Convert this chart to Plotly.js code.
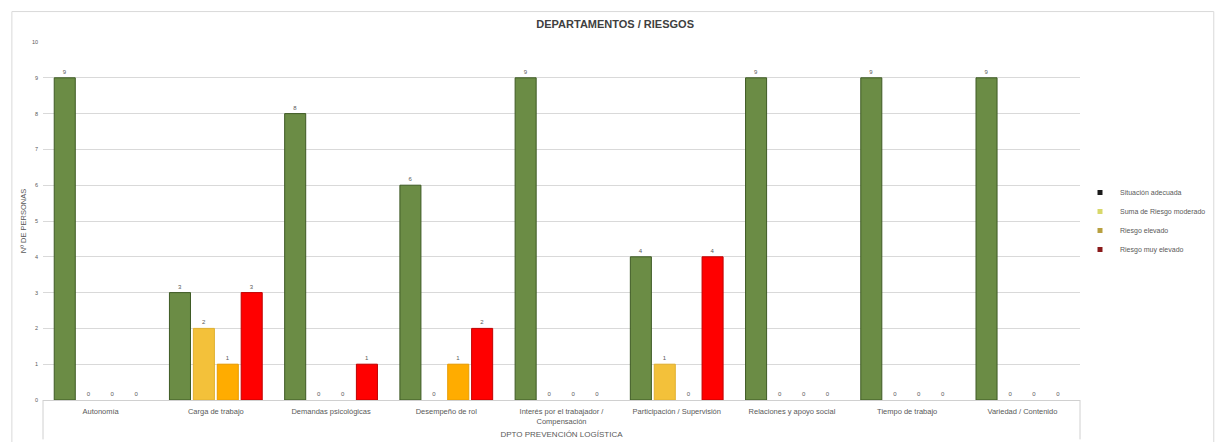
<!DOCTYPE html>
<html>
<head>
<meta charset="utf-8">
<script src="https://cdn.plot.ly/plotly-3.0.1.min.js"></script>
<style>html,body{margin:0;padding:0;background:#fff;}#chart{width:1223px;height:442px;}</style>
</head>
<body>
<div id="chart"></div>
<script>
const categories = ["Autonomía", "Carga de trabajo", "Demandas psicológicas", "Desempeño de rol", "Interés por el trabajador /<br>Compensación", "Participación / Supervisión", "Relaciones y apoyo social", "Tiempo de trabajo", "Variedad / Contenido"];
const seriesNames = ["Situación adecuada", "Suma de Riesgo moderado", "Riesgo elevado", "Riesgo muy elevado"];
const situacionAdecuada = [9, 3, 8, 6, 9, 4, 9, 9, 9];
const riesgoModerado = [0, 2, 0, 0, 0, 1, 0, 0, 0];
const riesgoElevado = [0, 1, 0, 1, 0, 0, 0, 0, 0];
const riesgoMuyElevado = [0, 3, 1, 2, 0, 4, 0, 0, 0];
const barColors = ["#6b8c45", "#f3c13a", "#ffac00", "#ff0000"];
const barLines = ["#3e5a24", "#e0b030", "#e89c00", "#c00000"];
const legendColors = ["#1a1a1a", "#d8d86a", "#b8a040", "#8a1a1a"];
const series = [situacionAdecuada, riesgoModerado, riesgoElevado, riesgoMuyElevado];

const traces = series.map((vals, i) => ({
  type: "bar",
  x: categories,
  y: vals,
  name: seriesNames[i],
  showlegend: false,
  marker: {color: barColors[i], line: {color: barLines[i], width: vals.map(v => v > 0 ? 1 : 0)}},
  text: vals.map(String),
  textposition: "outside",
  cliponaxis: false,
  textfont: {size: 6, color: "#595959", family: "Liberation Sans, Arial"}
}));
seriesNames.forEach((n, i) => {
  traces.push({
    type: "scatter", mode: "markers", x: [null], y: [null], name: n,
    marker: {symbol: "square", size: 5, color: legendColors[i]}
  });
});

const layout = {
  width: 1223, height: 442,
  margin: {l: 43, r: 143, t: 42, b: 42},
  paper_bgcolor: "#ffffff", plot_bgcolor: "#ffffff",
  barmode: "group", bargap: 0.17, bargroupgap: 0.12,
  font: {family: "Liberation Sans, Arial", color: "#595959", size: 6},
  title: {text: "<b>DEPARTAMENTOS / RIESGOS</b>", x: 0.503, xanchor: "center", y: 0.945, yanchor: "middle",
          font: {size: 11, color: "#404040", family: "Liberation Sans Narrow, Liberation Sans, Arial"}},
  xaxis: {
    type: "category", showgrid: false, showline: true, linecolor: "#d0d0d0", linewidth: 1,
    ticks: "", tickfont: {size: 7.5, color: "#595959"}, ticklabelstandoff: 4,
    title: {text: "DPTO PREVENCIÓN LOGÍSTICA", standoff: 6, font: {size: 8, color: "#595959"}}
  },
  yaxis: {
    range: [0, 10], dtick: 1, showgrid: true, gridcolor: "#d9d9d9", gridwidth: 1,
    zeroline: false, showline: false, ticks: "", tickfont: {size: 5.5, color: "#595959"},
    ticklabelstandoff: 4,
    title: {text: "Nº DE PERSONAS", standoff: 4, font: {size: 7.5, color: "#595959"}}
  },
  legend: {x: 1.0, xanchor: "left", y: 0.5, yanchor: "middle", font: {size: 7, color: "#595959"},
           tracegroupgap: 0, itemwidth: 30, bgcolor: "rgba(0,0,0,0)"},
  shapes: [
    {type: "line", xref: "paper", yref: "paper", x0: 0, x1: 0, y0: 0, y1: -0.11, line: {color: "#d0d0d0", width: 1}},
    {type: "line", xref: "paper", yref: "paper", x0: 1, x1: 1, y0: 0, y1: -0.11, line: {color: "#d0d0d0", width: 1}},
    {type: "rect", xref: "paper", yref: "paper", x0: -0.03, x1: 1.129, y0: -0.13, y1: 1.085, line: {color: "#d9d9d9", width: 1}}
  ]
};
Plotly.newPlot("chart", traces, layout, {displayModeBar: false, staticPlot: true});
</script>
</body>
</html>
